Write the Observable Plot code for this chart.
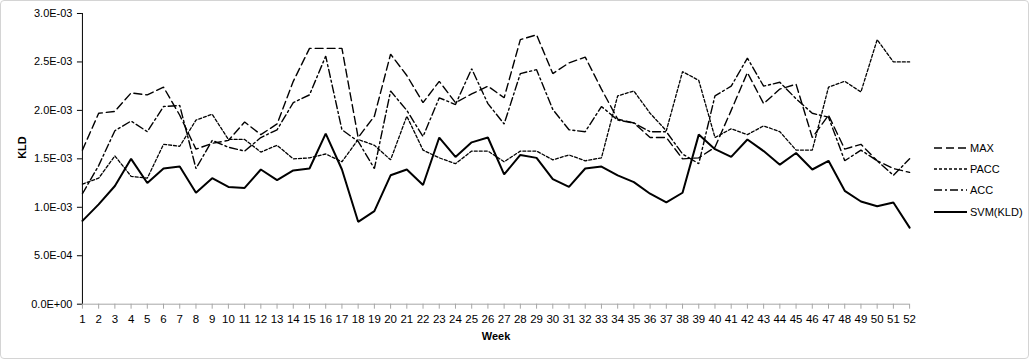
<!DOCTYPE html>
<html><head><meta charset="utf-8">
<script src="https://cdn.jsdelivr.net/npm/d3@7"></script>
<script src="https://cdn.jsdelivr.net/npm/@observablehq/plot@0.6"></script>
<style>
body{margin:0;background:#fff;}
#wrap{position:relative;width:1029px;height:359px;box-sizing:border-box;border:1px solid #d4d4d4;border-radius:4px;overflow:hidden;font-family:"Liberation Sans",Arial,sans-serif;}
#chart{position:absolute;left:-1px;top:-1px;}
#legend{position:absolute;left:933px;top:136px;font-size:11px;color:#000;}
.item{display:flex;align-items:center;height:21.3px;}
.item svg{margin-right:3px;}
</style></head><body>
<div id="wrap"><div id="chart"></div><div id="legend"></div></div>
<script>
// values in units of 1E-03
const SCALE = 1e-3;
const weeks = [1,2,3,4,5,6,7,8,9,10,11,12,13,14,15,16,17,18,19,20,21,22,23,24,25,26,27,28,29,30,31,32,33,34,35,36,37,38,39,40,41,42,43,44,45,46,47,48,49,50,51,52];
const MAX = [1.59,1.97,1.99,2.18,2.16,2.24,1.95,1.60,1.66,1.69,
             1.88,1.75,1.86,2.30,2.64,2.64,2.64,1.72,1.94,2.58,
             2.36,2.08,2.30,2.08,2.17,2.25,2.13,2.73,2.78,2.38,
             2.49,2.55,2.22,1.91,1.87,1.72,1.72,1.50,1.51,1.62,
             2.00,2.39,2.07,2.22,2.27,1.72,1.95,1.60,1.65,1.48,1.40,1.36];
const PACC = [1.24,1.30,1.53,1.32,1.30,1.65,1.63,1.90,1.96,1.70,
              1.70,1.57,1.64,1.50,1.51,1.55,1.47,1.70,1.64,1.49,
              1.94,1.59,1.51,1.45,1.58,1.58,1.47,1.58,1.58,1.49,
              1.54,1.48,1.51,2.15,2.20,1.97,1.79,2.40,2.31,1.72,
              1.81,1.75,1.84,1.78,1.59,1.59,2.24,2.30,2.19,2.73,2.50,2.50];
const ACC = [1.14,1.43,1.79,1.89,1.78,2.04,2.05,1.40,1.69,1.62,
             1.58,1.72,1.80,2.08,2.16,2.56,1.80,1.68,1.40,2.20,
             2.00,1.73,2.13,2.06,2.43,2.07,1.86,2.38,2.42,2.01,
             1.80,1.78,2.04,1.90,1.87,1.78,1.78,1.55,1.45,2.15,
             2.25,2.54,2.25,2.29,2.12,1.97,1.93,1.48,1.59,1.48,1.33,1.50];
const SVM = [0.86,1.03,1.22,1.50,1.25,1.40,1.42,1.15,1.30,1.21,
             1.20,1.39,1.28,1.38,1.40,1.76,1.39,0.85,0.96,1.33,
             1.39,1.23,1.72,1.52,1.67,1.72,1.34,1.54,1.51,1.29,
             1.21,1.40,1.42,1.33,1.26,1.14,1.05,1.15,1.75,1.60,
             1.52,1.70,1.58,1.44,1.56,1.39,1.48,1.17,1.06,1.01,1.05,0.79];
const seriesNames = ["MAX","PACC","ACC","SVM(KLD)"];
const yTicks = [0,0.0005,0.001,0.0015,0.002,0.0025,0.003];

const styles = {
  "MAX": {dash:"8,4", width:1.4},
  "PACC": {dash:"3,2", width:1.3},
  "ACC": {dash:"8,3,2,3", width:1.4},
  "SVM(KLD)": {dash:null, width:2}
};
const valuesBy = {"MAX":MAX,"PACC":PACC,"ACC":ACC,"SVM(KLD)":SVM};
const data = seriesNames.flatMap(s => weeks.map((w,i)=>({week:w, kld:valuesBy[s][i]*SCALE, series:s})));

const fmt = d => d.toExponential(1).toUpperCase().replace(/E([+-])(\d)$/, "E$10$2");

const plot = Plot.plot({
  width:1029, height:359,
  marginLeft:82, marginRight:119, marginTop:13, marginBottom:55,
  style:{fontFamily:"'Liberation Sans',Arial,sans-serif", fontSize:"11px", color:"#000", background:"transparent", overflow:"visible"},
  x:{domain:[1,52], label:null},
  y:{domain:[0,0.003], label:null},
  marks:[
    Plot.axisY({ticks:yTicks, tickFormat:fmt, tickSize:5, tickPadding:5, label:null, stroke:"#000", fontSize:11}),
    Plot.axisX({ticks:weeks, tickFormat:d=>String(d), tickSize:5, tickPadding:6, label:null, stroke:"#a6a6a6", fontSize:11.5}),
    Plot.ruleY([0], {stroke:"#a6a6a6"}),
    Plot.ruleX([1], {stroke:"#000"}),
    ...seriesNames.map(s => Plot.line(data.filter(d=>d.series===s), {
      x:"week", y:"kld", stroke:"#000", strokeWidth:styles[s].width,
      strokeDasharray:styles[s].dash, strokeLinejoin:"miter"})),
    Plot.text(["Week"], {frameAnchor:"bottom", dy:36, fontWeight:"bold", fontSize:11}),
    Plot.text(["KLD"], {frameAnchor:"left", dx:-60, rotate:-90, fontWeight:"bold", fontSize:11})
  ]
});
document.getElementById("chart").appendChild(plot);

const legend = document.getElementById("legend");
for (const s of seriesNames) {
  const st = styles[s];
  const item = document.createElement("div");
  item.className = "item";
  item.innerHTML = `<svg width="33" height="8"><line x1="0" y1="4" x2="33" y2="4" stroke="#000" stroke-width="${st.width}" ${st.dash ? `stroke-dasharray="${st.dash}"` : ""}/></svg><span>${s}</span>`;
  legend.appendChild(item);
}
</script></body></html>
